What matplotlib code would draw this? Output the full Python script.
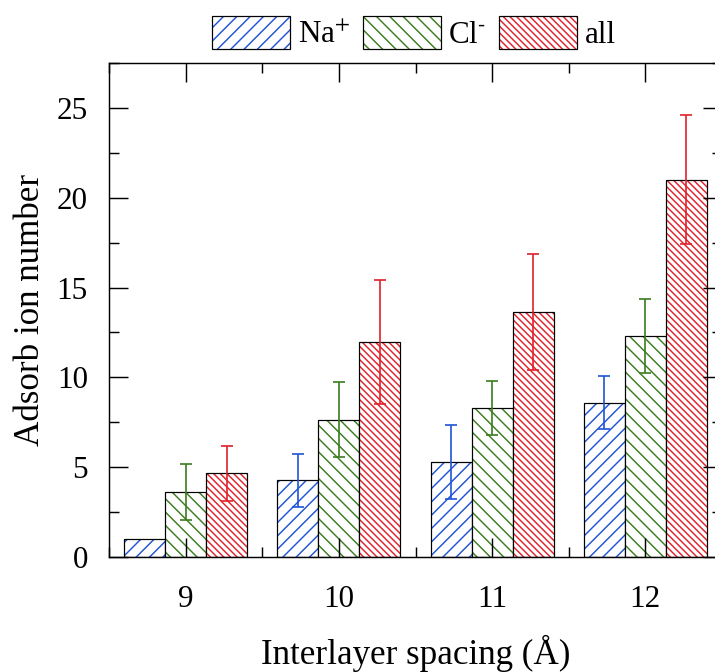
import numpy as np
import matplotlib
matplotlib.use('Agg')
import matplotlib.pyplot as plt
from matplotlib.patches import Patch
from matplotlib.legend_handler import HandlerTuple
from matplotlib.ticker import MultipleLocator

# data
spacing = [9, 10, 11, 12]
na = [1.0, 4.26, 5.3, 8.6]
na_err = [np.nan, 1.5, 2.05, 1.5]
cl = [3.6, 7.65, 8.3, 12.3]
cl_err = [1.55, 2.08, 1.52, 2.08]
all_ions = [4.65, 11.95, 13.65, 21.0]
all_err = [1.53, 3.46, 3.23, 3.6]

labels = ['Na$^{+}$', 'Cl$^{\u2010}$', 'all']
colors = ['#1f54d6', '#3a7d1e', '#e0202a']
hatches = ['//', '\\\\', '\\\\\\\\']

plt.rcParams['font.family'] = ['Liberation Serif', 'DejaVu Serif']
plt.rcParams['mathtext.fontset'] = 'stix'
plt.rcParams['hatch.linewidth'] = 1.3

dpi = 80
fig = plt.figure(figsize=(715 / dpi, 672 / dpi), dpi=dpi)
ax = fig.add_axes([109 / 715, 115 / 672, 613 / 715, 494 / 672])

x = np.array(spacing, dtype=float)
w = 0.267
series = [(na, na_err), (cl, cl_err), (all_ions, all_err)]
handles = []
for i, (vals, errs) in enumerate(series):
    pos = x + (i - 1) * w
    # hatch layer (hatch colour follows edgecolor) + black outline on top
    ax.bar(pos, vals, w, color='white', edgecolor=colors[i], hatch=hatches[i], linewidth=0)
    ax.bar(pos, vals, w, fill=False, edgecolor='black', linewidth=1.1)
    ax.errorbar(pos, vals, yerr=errs, fmt='none', ecolor=colors[i],
                elinewidth=1.5, capsize=5, capthick=1.5)
    hp = Patch(facecolor='white', edgecolor=colors[i], hatch=hatches[i], linewidth=0)
    op = Patch(fill=False, edgecolor='black', linewidth=1.1)
    handles.append((hp, op))

ax.set_xlim(8.5, 12.5)
ax.set_ylim(0, 27.5)
ax.set_xticks(spacing)
ax.xaxis.set_minor_locator(MultipleLocator(0.5))
ax.yaxis.set_major_locator(MultipleLocator(5))
ax.yaxis.set_minor_locator(MultipleLocator(2.5))
ax.tick_params(which='both', direction='in', top=True, right=True, width=1.3, labelsize=28)
ax.tick_params(which='major', length=17)
ax.tick_params(which='minor', length=9)
ax.tick_params(axis='x', pad=25)
ax.tick_params(axis='y', pad=19)
for s in ax.spines.values():
    s.set_linewidth(1.3)

ax.set_xlabel('Interlayer spacing (Å)', fontsize=31.5, labelpad=19)
ax.set_ylabel('Adsorb ion number', fontsize=31.5, labelpad=9)

fig.legend(handles, labels, handler_map={tuple: HandlerTuple(ndivide=1, pad=0)},
           loc='center', bbox_to_anchor=(414 / 715, 1 - 33 / 672), ncol=3, frameon=False,
           fontsize=28, handlelength=2.5, handleheight=1.25, handletextpad=0.25,
           columnspacing=0.4, borderpad=0, borderaxespad=0)

fig.savefig('out.png', dpi=dpi)
